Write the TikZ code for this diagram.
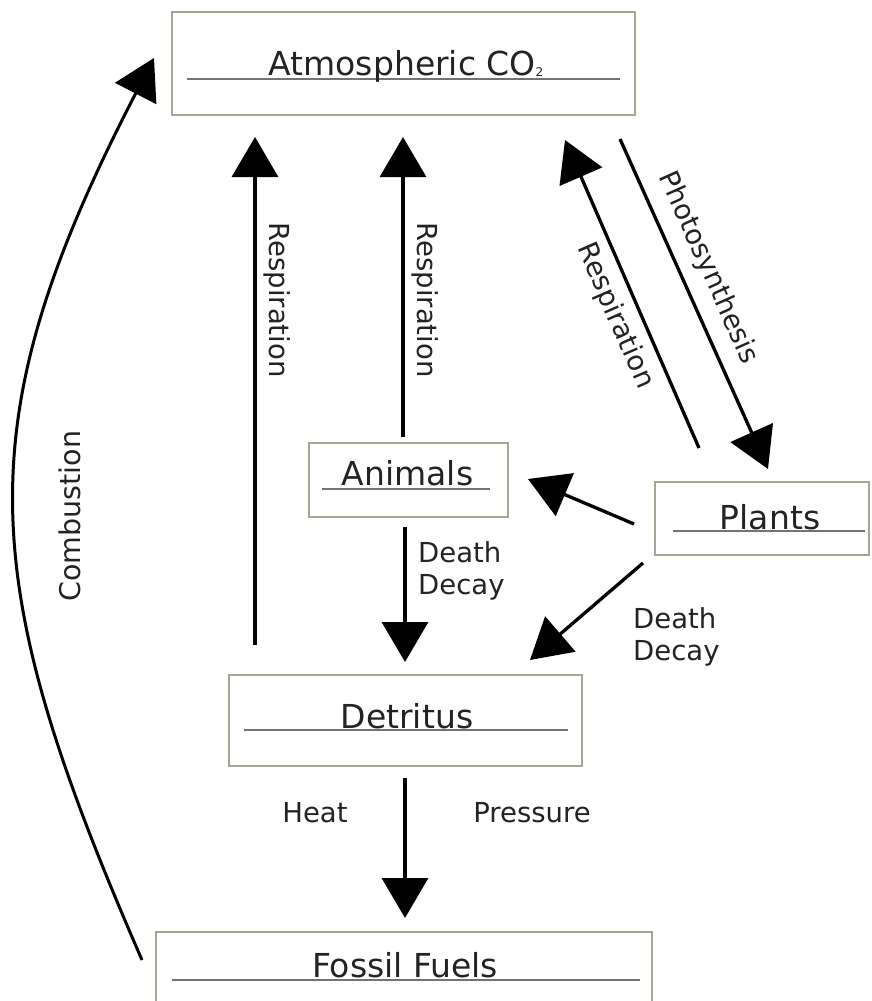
\documentclass[tikz,border=0pt]{standalone}
\usepackage{fontspec}
\setmainfont{DejaVu Sans}
\usetikzlibrary{arrows.meta}
\definecolor{boxgray}{RGB}{165,165,155}
\definecolor{linegray}{RGB}{115,115,115}
\definecolor{txt}{RGB}{35,35,35}
\begin{document}
\begin{tikzpicture}[x=1pt,y=-1pt,
  box/.style={draw=boxgray, line width=1.8pt, inner sep=0pt, outer sep=0pt},
  boxtext/.style={text=txt, inner sep=0pt, font=\fontsize{33}{38}\selectfont},
  lbl/.style={text=txt, inner sep=0pt, font=\fontsize{27.5}{32}\selectfont},
  uline/.style={draw=linegray, line width=1.4pt},
  arr/.style={line width=3.3pt, -{Triangle[length=40pt,width=46pt]}}]
\useasboundingbox (0,0) rectangle (871,1001);
\clip (0,0) rectangle (871,1001);
\fill[white] (0,0) rectangle (871,1001);

% boxes
\node[box, minimum width=463pt, minimum height=103pt] (atmos) at (403.5,63.5) {};
\node[box, minimum width=199pt, minimum height=74pt] (animals) at (408.5,480) {};
\node[box, minimum width=214pt, minimum height=73pt] (plants) at (762,518.5) {};
\node[box, minimum width=353pt, minimum height=91pt] (detritus) at (405.5,720.5) {};
\node[box, minimum width=496pt, minimum height=88pt] (fossil) at (404,976) {};

% underlines
\draw[uline] (187,79) -- (620,79);
\draw[uline] (322,489) -- (490,489);
\draw[uline] (673,531) -- (865,531);
\draw[uline] (244,730) -- (568,730);
\draw[uline] (172,980) -- (640,980);

% box texts
\node[boxtext, anchor=base] (atmostxt) at (406,75) {Atmospheric CO\raisebox{-1pt}{\fontsize{12}{12}\selectfont 2}};
\node[boxtext, anchor=base] (animalstxt) at (407.5,485) {Animals};
\node[boxtext, anchor=base] (plantstxt) at (770,529) {Plants};
\node[boxtext, anchor=base] (detritustxt) at (407,728) {Detritus};
\node[boxtext, anchor=base] (fossiltxt) at (405,977) {Fossil Fuels};

% connector end points
\coordinate (r1s) at (255,645);  \coordinate (r1e) at (255,137);
\coordinate (r2s) at (403,437);  \coordinate (r2e) at (403,137);
\coordinate (r3s) at (699,448);  \coordinate (r3e) at (565,140);
\coordinate (phs) at (620,139);  \coordinate (phe) at (768,469);
\coordinate (pas) at (634,524);  \coordinate (pae) at (528,479);
\coordinate (ads) at (405,527);  \coordinate (ade) at (405,662);
\coordinate (pds) at (643,563);  \coordinate (pde) at (530,660);
\coordinate (dfs) at (405,778);  \coordinate (dfe) at (405,918);
\coordinate (cbs) at (142,960);  \coordinate (cbe) at (154,58);

% arrows
\draw[arr] (r1s) -- (r1e);
\draw[arr] (r2s) -- (r2e);
\draw[arr] (r3s) -- (r3e);
\draw[arr] (phs) -- (phe);
\draw[arr] (pas) -- (pae);
\draw[arr] (ads) -- (ade);
\draw[arr] (pds) -- (pde);
\draw[arr] (dfs) -- (dfe);
\draw[arr, line width=3pt] (cbs) .. controls (-23,581) and (-36,425) .. (cbe);

% labels
\node[lbl, rotate=-90] (resp1) at (277,300) {Respiration};
\node[lbl, rotate=-90] (resp2) at (425,300) {Respiration};
\node[lbl, rotate=-66.5] (resp3) at (615,316) {Respiration};
\node[lbl, rotate=-65.9] (photo) at (708,268) {Photosynthesis};
\node[lbl, rotate=90, font=\fontsize{28.5}{32}\selectfont] (comb) at (70,516) {Combustion};
\node[lbl, anchor=base west] (dd1a) at (418,562) {Death};
\node[lbl, anchor=base west] (dd1b) at (418,594) {Decay};
\node[lbl, anchor=base west] (dd2a) at (633,628) {Death};
\node[lbl, anchor=base west] (dd2b) at (633,660) {Decay};
\node[lbl, anchor=base] (heat) at (315,822) {Heat};
\node[lbl, anchor=base] (press) at (532,822) {Pressure};
\end{tikzpicture}
\end{document}
